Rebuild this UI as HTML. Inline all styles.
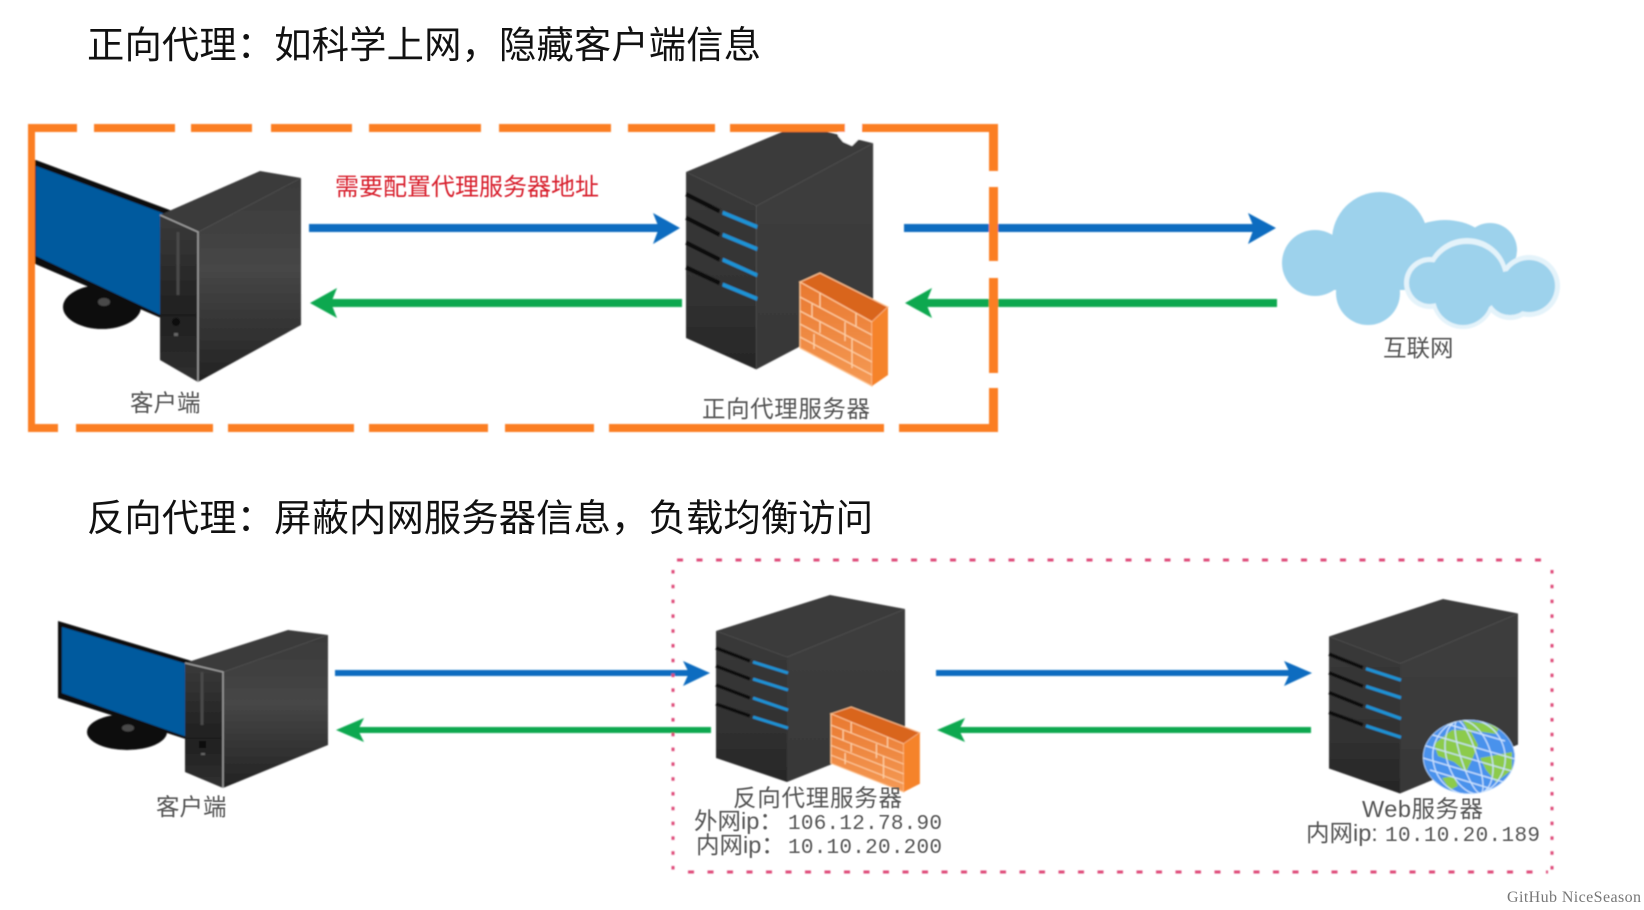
<!DOCTYPE html>
<html><head><meta charset="utf-8">
<style>
html,body{margin:0;padding:0;background:#fff;width:1644px;height:910px;overflow:hidden}
svg{display:block}
.t{font-family:"Liberation Sans","Noto Sans CJK SC",sans-serif}
.lab{font-family:"Liberation Sans","Noto Sans CJK SC",sans-serif;fill:#555;font-size:23.5px}
.mono{font-family:"Liberation Mono",monospace;fill:#555;font-size:21px}
</style></head><body>
<svg width="1644" height="910" viewBox="0 0 1644 910" xmlns="http://www.w3.org/2000/svg">
<defs>
<filter id="b" x="-5%" y="-5%" width="110%" height="110%"><feGaussianBlur stdDeviation="0.7"/></filter>
<filter id="b2" x="-5%" y="-5%" width="110%" height="110%"><feGaussianBlur stdDeviation="0.45"/></filter>
<linearGradient id="sf" x1="0" y1="0" x2="0" y2="1"><stop offset="0" stop-color="#383838"/><stop offset=".55" stop-color="#333"/><stop offset="1" stop-color="#262626"/></linearGradient>
<linearGradient id="ss" x1="0" y1="0" x2="0" y2="1"><stop offset="0" stop-color="#3d3d3d"/><stop offset="1" stop-color="#383838"/></linearGradient>
<linearGradient id="ts" x1="0" y1="0" x2="0" y2="1"><stop offset="0" stop-color="#3a3a3a"/><stop offset=".45" stop-color="#464646"/><stop offset="1" stop-color="#222"/></linearGradient>
<linearGradient id="tf" x1="0" y1="0" x2="0" y2="1"><stop offset="0" stop-color="#3a3a3a"/><stop offset=".6" stop-color="#1f1f1f"/><stop offset="1" stop-color="#303030"/></linearGradient>
<linearGradient id="brick" x1="0" y1="0" x2="0" y2="1"><stop offset="0" stop-color="#e8782f"/><stop offset="1" stop-color="#f59a55"/></linearGradient>

<g id="server">
  <polygon points="0,36 114,0 189,14 71,62" fill="#3a3a3a"/>
  <polygon points="71,62 189,14 189,140 71,187" fill="url(#ss)"/>
  <polygon points="0,36 71,62 71,187 0,163" fill="url(#sf)"/>
  <g stroke="#111" stroke-width="3.5" fill="none">
    <line x1="0" y1="53" x2="34" y2="66"/><line x1="0" y1="71" x2="34" y2="84"/><line x1="0" y1="90" x2="34" y2="103"/><line x1="0" y1="109" x2="34" y2="121"/>
  </g>
  <g stroke="#1f93d6" stroke-width="3" fill="none">
    <line x1="37" y1="67" x2="72" y2="78"/><line x1="37" y1="84" x2="72" y2="95"/><line x1="37" y1="103" x2="72" y2="115"/><line x1="37" y1="122" x2="72" y2="133"/>
  </g>
</g>

<g id="firewall">
  <polygon points="0,9 20,0 88,34 72,49" fill="#d9651f" stroke="#ffc795" stroke-width="1.2"/>
  <polygon points="0,9 72,49 72,113 0,75" fill="url(#brick)" stroke="#ffc795" stroke-width="1.2"/>
  <polygon points="72,49 88,34 88,102 72,113" fill="#f5832a"/>
  <g stroke="#ffd3a8" stroke-width="1.2" fill="none">
    <line x1="0" y1="24" x2="72" y2="62"/><line x1="0" y1="38" x2="72" y2="76"/><line x1="0" y1="51" x2="72" y2="89"/><line x1="0" y1="64" x2="72" y2="102"/>
    <line x1="20" y1="20" x2="20" y2="34"/><line x1="56" y1="40" x2="56" y2="54"/><line x1="12" y1="31" x2="12" y2="44"/><line x1="45" y1="49" x2="45" y2="68"/><line x1="20" y1="48" x2="20" y2="60"/><line x1="52" y1="65" x2="52" y2="95"/><line x1="14" y1="61" x2="14" y2="76"/>
  </g>
</g>
</defs>

<rect width="1644" height="910" fill="#fff"/>

<!-- Titles -->
<text class="t" x="87" y="58" font-size="37.3" fill="#111" textLength="674">正向代理：如科学上网，隐藏客户端信息</text>
<text class="t" x="87" y="531" font-size="37.3" fill="#111" textLength="786">反向代理：屏蔽内网服务器信息，负载均衡访问</text>

<g filter="url(#b)">
<!-- top PC -->
<g>
  <ellipse cx="102" cy="307" rx="39" ry="22" fill="#111"/>
  <ellipse cx="104" cy="302" rx="6" ry="4" fill="#4a4a4a"/>
  <polygon points="33,159 175,212 175,324 33,263" fill="#0a0a0a"/>
  <polygon points="36,166 165,214 165,317 36,256" fill="#045a9e"/>
  <polygon points="160,215 260,171 301,178 198,232" fill="#3a3a3a"/>
  <polygon points="198,232 301,178 301,325 198,382" fill="url(#ts)"/>
  <polygon points="160,215 198,232 198,382 160,360" fill="url(#tf)"/>
  <polyline points="160,215 198,232 198,382" fill="none" stroke="#a5a5a5" stroke-width="1.4"/>
  <circle cx="176" cy="322" r="4" fill="#0a0a0a"/>
  <rect x="174" y="333" width="4" height="3" fill="#666"/>
  <line x1="178" y1="232" x2="178" y2="295" stroke="#4a4a4a" stroke-width="3"/>
</g>
<!-- bottom PC -->
<g>
  <ellipse cx="127" cy="732" rx="40" ry="18" fill="#111"/>
  <ellipse cx="128" cy="728" rx="6" ry="3.5" fill="#4a4a4a"/>
  <polygon points="58,621 195,662 195,742 58,698" fill="#0a0a0a"/>
  <polygon points="62,627 187,664 187,737 62,693" fill="#045a9e"/>
  <polygon points="185,663 288,630 328,635 223,672" fill="#3a3a3a"/>
  <polygon points="223,672 328,635 328,745 223,788" fill="url(#ts)"/>
  <polygon points="185,663 223,672 223,788 185,772" fill="url(#tf)"/>
  <polyline points="185,663 223,672 223,788" fill="none" stroke="#a5a5a5" stroke-width="1.4"/>
  <rect x="199" y="741" width="7" height="7" fill="#0a0a0a"/>
  <rect x="201" y="753" width="4" height="2" fill="#666"/>
  <line x1="202" y1="672" x2="202" y2="725" stroke="#4a4a4a" stroke-width="3"/>
</g>

<!-- servers -->
<use href="#server" transform="translate(686,125) scale(.99,1.307)"/>
<polygon points="838,125 862,125 860,138 852,146 843,142 838,136" fill="#fff"/>
<use href="#firewall" transform="translate(800,273)"/>
<use href="#server" transform="translate(716,595)"/>
<use href="#firewall" transform="translate(831,707) scale(1.01,.752)"/>
<use href="#server" transform="translate(1329,599) scale(1,1.04)"/>

<!-- globe -->
<g>
  <ellipse cx="1469" cy="757" rx="46" ry="37" fill="#4a92ec"/>
  <clipPath id="g"><ellipse cx="1469" cy="757" rx="46" ry="37"/></clipPath>
  <g clip-path="url(#g)">
    <path d="M1434 744 L1452 730 L1470 730 L1478 745 L1472 760 L1466 772 L1454 762 L1438 756Z" fill="#8ccb4b"/>
    <path d="M1462 720 L1500 726 L1496 734 L1468 730Z" fill="#8ccb4b"/>
    <path d="M1480 758 L1512 752 L1512 770 L1496 782 L1486 770Z" fill="#8ccb4b"/>
    <path d="M1442 778 L1454 776 L1458 786 L1450 790Z" fill="#8ccb4b"/>
    <g stroke="#cfe6ff" stroke-width="1.2" fill="none">
      <ellipse cx="1469" cy="757" rx="46" ry="37"/>
      <ellipse cx="1469" cy="757" rx="36" ry="38" transform="rotate(-18 1469 757)"/>
      <ellipse cx="1469" cy="757" rx="22" ry="38" transform="rotate(-18 1469 757)"/>
      <ellipse cx="1469" cy="757" rx="8" ry="38" transform="rotate(-18 1469 757)"/>
      <line x1="1423" y1="745" x2="1515" y2="772"/><line x1="1426" y1="733" x2="1515" y2="759"/><line x1="1423" y1="758" x2="1510" y2="784"/><line x1="1440" y1="722" x2="1505" y2="741"/><line x1="1430" y1="770" x2="1495" y2="790"/>
    </g>
  </g>
</g>

<!-- cloud -->
<g fill="#9dd2ec">
  <circle cx="1380" cy="240" r="48"/><circle cx="1315" cy="263" r="33"/><circle cx="1368" cy="293" r="32"/>
  <ellipse cx="1445" cy="250" rx="45" ry="30"/><circle cx="1490" cy="250" r="27"/>
  <rect x="1330" y="235" width="150" height="55"/>
</g>
<g fill="#e4f3fa">
  <ellipse cx="1467" cy="278" rx="41" ry="40"/><circle cx="1430" cy="283" r="26"/><circle cx="1463" cy="297" r="32"/><circle cx="1529" cy="286" r="31"/><circle cx="1510" cy="293" r="27"/><rect x="1440" y="270" width="90" height="35"/>
</g>
<g fill="#9dd2ec">
  <ellipse cx="1467" cy="279" rx="37" ry="35"/><circle cx="1430" cy="283" r="21"/><circle cx="1463" cy="297" r="28"/><circle cx="1529" cy="286" r="26"/><circle cx="1510" cy="293" r="22"/><rect x="1440" y="272" width="90" height="33"/>
</g>

<!-- orange frame -->
<g fill="#fb7e21">
  <rect x="28" y="124" width="49" height="8"/><rect x="94" y="124" width="81" height="8"/><rect x="191" y="124" width="61" height="8"/><rect x="271" y="124" width="81" height="8"/><rect x="369" y="124" width="112" height="8"/><rect x="499" y="124" width="112" height="8"/><rect x="628" y="124" width="87" height="8"/><rect x="730" y="124" width="115" height="8"/><rect x="862" y="124" width="136" height="8"/>
  <rect x="28" y="424" width="30" height="8"/><rect x="76" y="424" width="137" height="8"/><rect x="228" y="424" width="126" height="8"/><rect x="369" y="424" width="119" height="8"/><rect x="505" y="424" width="89" height="8"/><rect x="609" y="424" width="275" height="8"/><rect x="899" y="424" width="99" height="8"/>
  <rect x="28" y="124" width="7" height="308"/>
  <rect x="989" y="124" width="9" height="47"/><rect x="989" y="187" width="9" height="74"/><rect x="989" y="278" width="9" height="95"/><rect x="989" y="388" width="9" height="44"/>
</g>

<!-- arrows -->
<g fill="#0a6cc0">
  <rect x="309" y="224" width="350" height="8"/><polygon points="680,228 653,213 659,228 653,244"/>
  <rect x="904" y="224" width="350" height="8"/><polygon points="1276,228 1248,213 1254,228 1248,244"/>
  <rect x="335" y="670" width="355" height="6"/><polygon points="710,673 683,661 689,673 683,686"/>
  <rect x="936" y="670" width="354" height="6"/><polygon points="1312,673 1284,661 1290,673 1284,686"/>
</g>
<g fill="#0aa84f">
  <rect x="330" y="299" width="352" height="8"/><polygon points="310,303 337,288 331,303 337,318"/>
  <rect x="926" y="299" width="351" height="8"/><polygon points="905,303 932,288 926,303 932,318"/>
  <rect x="358" y="727" width="353" height="6"/><polygon points="336,730 364,718 358,730 364,742"/>
  <rect x="959" y="727" width="352" height="6"/><polygon points="937,730 965,718 959,730 965,742"/>
</g>
<rect x="989" y="224" width="9" height="8" fill="#fb7e21"/>
<rect x="989" y="299" width="9" height="8" fill="#fb7e21"/>

<!-- red dashed frame -->
<g fill="none" stroke="#de4a78" stroke-width="3">
  <line x1="677" y1="560" x2="1552" y2="560" stroke-dasharray="6 13.5"/>
  <line x1="688" y1="872" x2="1548" y2="872" stroke-dasharray="6 13.5"/>
  <line x1="673" y1="570" x2="673" y2="872" stroke-dasharray="3.5 11.3"/>
  <line x1="1552" y1="570" x2="1552" y2="872" stroke-dasharray="3.5 11.3"/>
</g>
</g>

<!-- labels -->
<g filter="url(#b2)">
<text class="t" x="335" y="195" font-size="24" fill="#d8202f" textLength="264">需要配置代理服务器地址</text>
<text class="lab" x="130" y="411">客户端</text>
<text class="lab" x="702" y="417" textLength="168">正向代理服务器</text>
<text class="lab" x="1383" y="356">互联网</text>
<text class="lab" x="156" y="815">客户端</text>
<text class="lab" x="733" y="806" textLength="169">反向代理服务器</text>
<text class="lab" x="694" y="829">外网ip：</text>
<text class="mono" x="788" y="829" textLength="154">106.12.78.90</text>
<text class="lab" x="696" y="853">内网ip：</text>
<text class="mono" x="788" y="853" textLength="154">10.10.20.200</text>
<text class="lab" x="1362" y="817" textLength="121">Web服务器</text>
<text class="lab" x="1306" y="841">内网ip:</text>
<text class="mono" x="1385" y="841" textLength="155">10.10.20.189</text>
</g>
<text x="1507" y="902" font-family="'Liberation Serif',serif" font-size="16" fill="#777" textLength="134">GitHub NiceSeason</text>
</svg>
</body></html>
